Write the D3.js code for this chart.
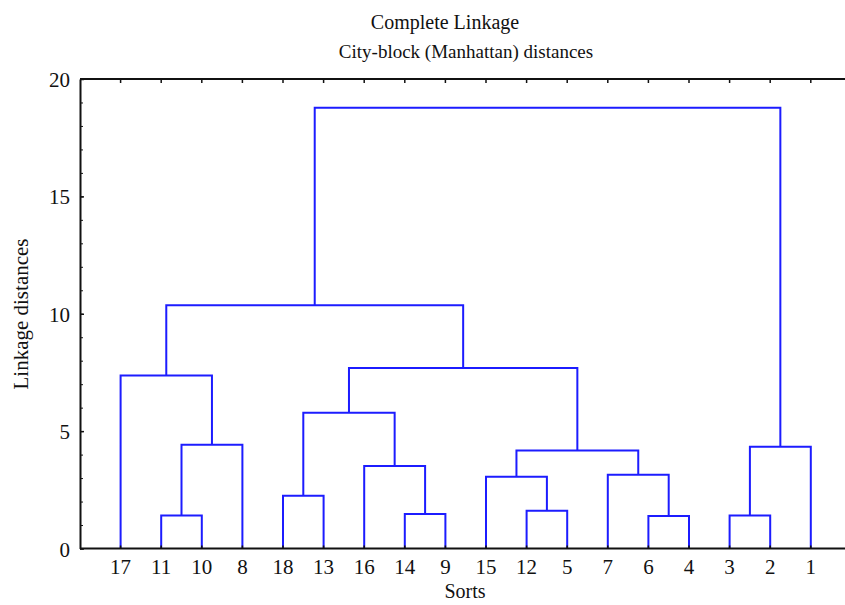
<!DOCTYPE html>
<html lang="en">
<meta charset="utf-8" />
<style>
    body { margin: 0; background: #fff; }
    text { font-family: "Liberation Serif", "DejaVu Serif", serif; fill: #111; }
    .axis path, .axis line { stroke: #111; }
    .axis path { stroke-width: 2px; }
    .axis line { stroke-width: 1.5px; }
    .link { fill: none; stroke: #1c1cff; stroke-width: 2px; }
</style>
<body>
<svg width="845" height="605"></svg>
<script src="https://d3js.org/d3.v7.min.js"></script>
<script>
    // leaves in dendrogram order
    var leafLabels = ["17", "11", "10", "8", "18", "13", "16", "14", "9", "15", "12", "5", "7", "6", "4", "3", "2", "1"]

    // linkage rows: node ids 0..17 are leaves (order above), 18+k is merge k
    var linkLeft   = [1, 13, 15, 7, 10, 4, 9, 12, 6, 24, 20, 18, 23, 0, 30, 31, 33]
    var linkRight  = [2, 14, 16, 8, 11, 5, 22, 19, 21, 25, 17, 3, 26, 29, 27, 32, 28]
    var linkHeight = [1.41, 1.38, 1.41, 1.47, 1.61, 2.25, 3.06, 3.14, 3.51, 4.17, 4.33, 4.42, 5.78, 7.37, 7.69, 10.36, 18.78]

    var yTicks = [0, 5, 10, 15, 20]

    var svg = d3.select("svg")

    var x = d3.scaleLinear()
        .domain([0, leafLabels.length + 1])
        .range([80, 80 + 19 * 40.6])

    var y = d3.scaleLinear()
        .domain([0, 20])
        .range([548.5, 79])

    // node positions
    var nodeX = leafLabels.map((d, i) => x(i + 1))
    var nodeH = leafLabels.map(d => 0)
    linkLeft.forEach(function(a, k) {
        var b = linkRight[k]
        nodeX.push((nodeX[a] + nodeX[b]) / 2)
        nodeH.push(linkHeight[k])
    })

    // links
    svg.append("g")
        .selectAll("path")
        .data(linkLeft.map((a, k) => ({ a: a, b: linkRight[k], h: linkHeight[k] })))
        .enter()
        .append("path")
        .attr("class", "link")
        .attr("d", d => "M" + nodeX[d.a] + "," + y(nodeH[d.a]) +
            "V" + y(d.h) + "H" + nodeX[d.b] + "V" + y(nodeH[d.b]))

    // left axis, minor ticks
    svg.append("g")
        .attr("class", "axis")
        .attr("transform", "translate(80,0)")
        .call(d3.axisLeft(y).tickValues(d3.range(0, 21)).tickSizeInner(-3).tickSizeOuter(0).tickFormat(""))
        .call(g => g.select(".domain").remove())
        .selectAll("line").style("stroke-width", "1px")

    // left axis, major
    svg.append("g")
        .attr("class", "axis")
        .attr("transform", "translate(80,0)")
        .call(d3.axisLeft(y).tickValues(yTicks).tickSizeInner(-4).tickSizeOuter(0).tickPadding(10))
        .call(g => g.selectAll("text").style("font-size", "21px").attr("dy", "0.36em"))

    var xLeaf = d3.scaleOrdinal().domain(leafLabels).range(nodeX.slice(0, leafLabels.length))

    // bottom axis
    var bottomAxis = svg.append("g")
        .attr("class", "axis")
        .attr("transform", "translate(0," + y(0) + ")")
    bottomAxis.append("path")
        .attr("d", "M" + x.range()[0] + ",0H" + x.range()[1])
        .attr("stroke", "#111").attr("stroke-width", 2)
    bottomAxis.selectAll(".tick")
        .data(leafLabels)
        .enter()
        .append("g")
        .attr("class", "tick")
        .attr("transform", d => "translate(" + xLeaf(d) + ",0)")
        .call(g => g.append("line").attr("y2", -3))
        .call(g => g.append("text")
            .attr("y", 11)
            .attr("dy", "0.71em")
            .attr("text-anchor", "middle")
            .style("font-size", "21px")
            .text(d => d))

    // top frame
    var topAxis = svg.append("g")
        .attr("class", "axis")
        .attr("transform", "translate(0," + y(20) + ")")
    topAxis.append("path")
        .attr("d", "M" + x.range()[0] + ",0H" + x.range()[1])
        .attr("stroke", "#111").attr("stroke-width", 2)
    topAxis.selectAll("line")
        .data(leafLabels)
        .enter()
        .append("line")
        .attr("x1", d => xLeaf(d)).attr("x2", d => xLeaf(d))
        .attr("y2", 4)

    // titles
    svg.append("text")
        .attr("x", 445).attr("y", 29)
        .attr("text-anchor", "middle")
        .style("font-size", "20px")
        .text("Complete Linkage")
    svg.append("text")
        .attr("x", 466).attr("y", 58)
        .attr("text-anchor", "middle")
        .style("font-size", "19px")
        .text("City-block (Manhattan) distances")

    svg.append("text")
        .attr("transform", "translate(28,314) rotate(-90)")
        .attr("text-anchor", "middle")
        .style("font-size", "21px")
        .text("Linkage distances")

    svg.append("text")
        .attr("x", 465).attr("y", 598)
        .attr("text-anchor", "middle")
        .style("font-size", "20px")
        .text("Sorts")
</script>
</body>
</html>
